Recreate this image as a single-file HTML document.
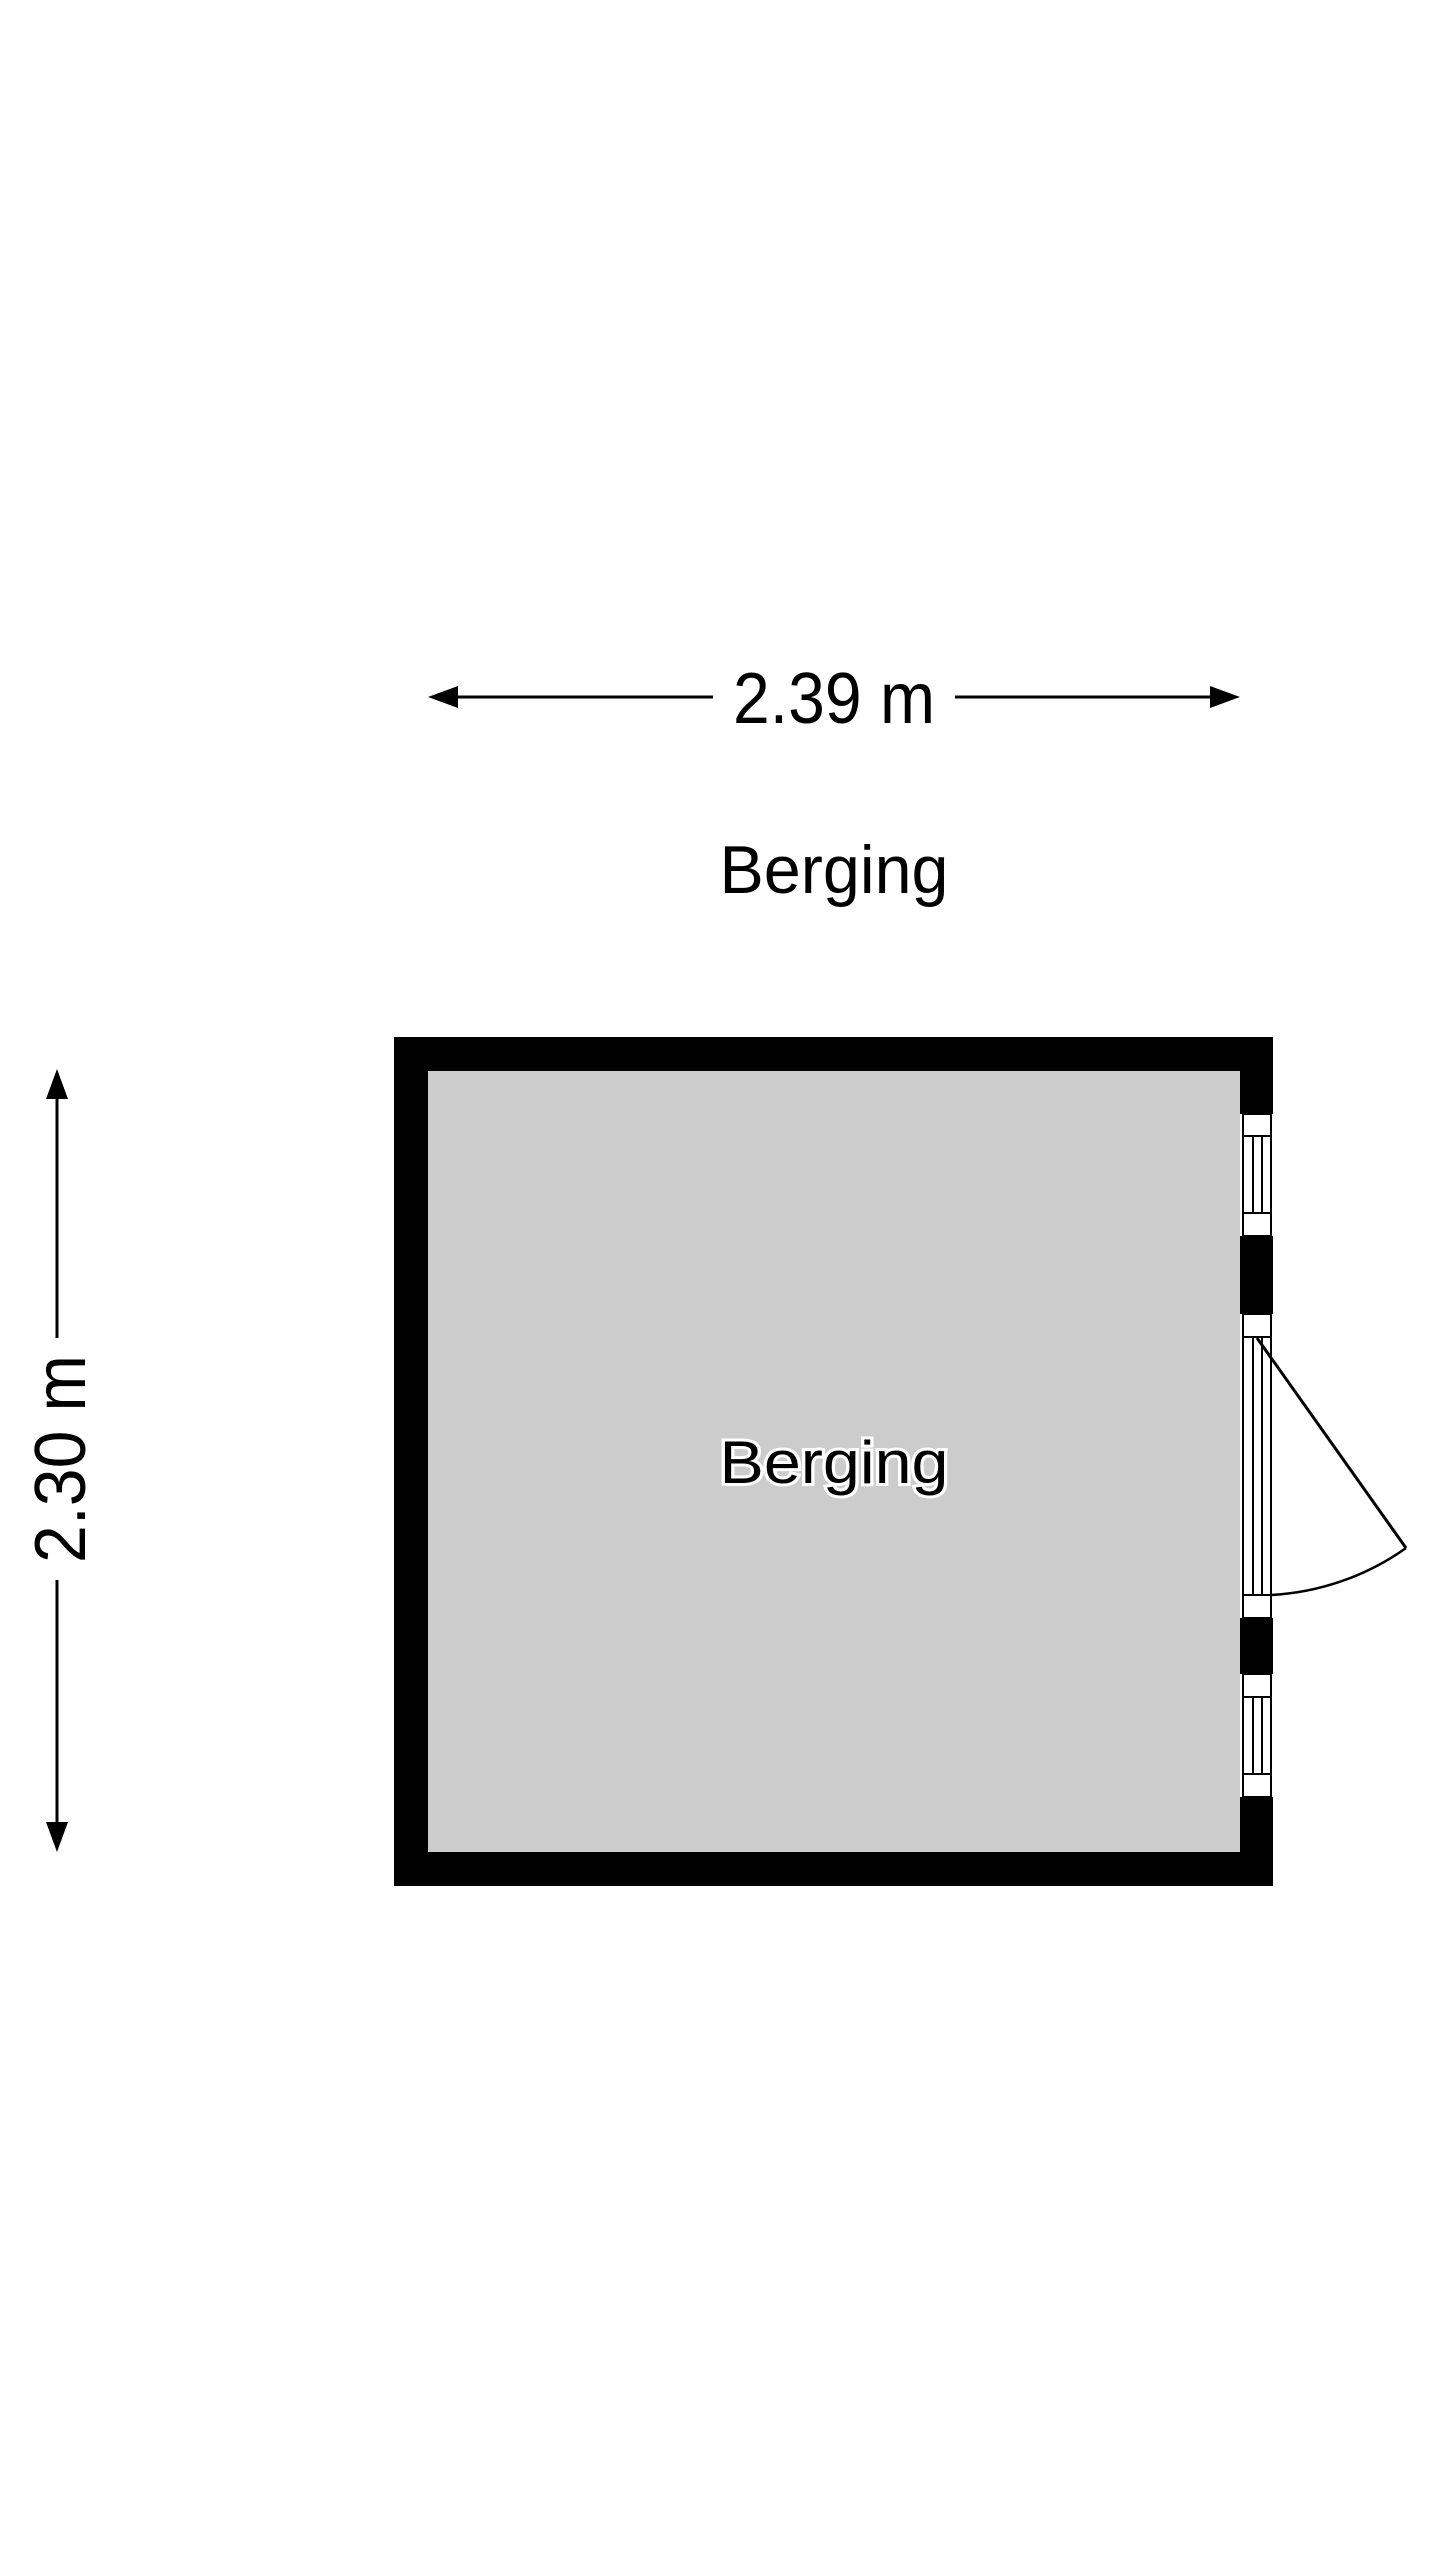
<!DOCTYPE html>
<html><head><meta charset="utf-8"><style>html,body{margin:0;padding:0;background:#fff}svg{display:block}</style></head>
<body>
<svg width="1440" height="2560" viewBox="0 0 1440 2560" xmlns="http://www.w3.org/2000/svg" font-family="Liberation Sans, sans-serif">
<rect width="1440" height="2560" fill="#fff"/>
<!-- horizontal dimension -->
<line x1="445" y1="697" x2="713" y2="697" stroke="#000" stroke-width="3"/>
<line x1="955" y1="697" x2="1222" y2="697" stroke="#000" stroke-width="3"/>
<polygon points="428,697 458,686 458,708" fill="#000"/>
<polygon points="1240,697 1210,686 1210,708" fill="#000"/>
<text x="834" y="723" font-size="72" text-anchor="middle" textLength="202" lengthAdjust="spacingAndGlyphs">2.39 m</text>
<text x="834" y="893" font-size="68" text-anchor="middle" textLength="229" lengthAdjust="spacingAndGlyphs">Berging</text>
<!-- vertical dimension -->
<line x1="57" y1="1086" x2="57" y2="1338" stroke="#000" stroke-width="3"/>
<line x1="57" y1="1580" x2="57" y2="1835" stroke="#000" stroke-width="3"/>
<polygon points="57,1069 46,1099 68,1099" fill="#000"/>
<polygon points="57,1852 46,1822 68,1822" fill="#000"/>
<text transform="translate(85,1459) rotate(-90)" font-size="72" text-anchor="middle" textLength="208" lengthAdjust="spacingAndGlyphs">2.30 m</text>
<!-- room -->
<rect x="394" y="1037" width="879" height="849" fill="#000"/>
<rect x="428" y="1071" width="812" height="781" fill="#cccccc"/>
<!-- right wall openings -->
<rect x="1240" y="1114" width="34" height="122" fill="#fff"/>
<rect x="1240" y="1314" width="34" height="304" fill="#fff"/>
<rect x="1240" y="1674" width="34" height="123" fill="#fff"/>
<g fill="none" stroke="#000" stroke-width="2">
<rect x="1243" y="1114" width="28" height="122"/>
<line x1="1243" y1="1136" x2="1271" y2="1136"/><line x1="1243" y1="1213" x2="1271" y2="1213"/>
<line x1="1253" y1="1136" x2="1253" y2="1213"/><line x1="1262" y1="1136" x2="1262" y2="1213"/>
<rect x="1243" y="1314" width="28" height="304"/>
<line x1="1243" y1="1337" x2="1271" y2="1337"/><line x1="1243" y1="1595" x2="1271" y2="1595"/>
<line x1="1253" y1="1337" x2="1253" y2="1595"/><line x1="1262" y1="1337" x2="1262" y2="1595"/>
<rect x="1243" y="1674" width="28" height="123"/>
<line x1="1243" y1="1697" x2="1271" y2="1697"/><line x1="1243" y1="1774" x2="1271" y2="1774"/>
<line x1="1253" y1="1697" x2="1253" y2="1774"/><line x1="1262" y1="1697" x2="1262" y2="1774"/>
<line x1="1257" y1="1338" x2="1406" y2="1548" stroke-width="3"/>
<path d="M1406,1548 A257,257 0 0 1 1271,1595" stroke-width="2.5"/>
</g>
<text x="834" y="1483" font-size="60" text-anchor="middle" textLength="229" lengthAdjust="spacingAndGlyphs" stroke="#fff" stroke-width="6" paint-order="stroke" fill="#000">Berging</text>
</svg>
</body></html>
